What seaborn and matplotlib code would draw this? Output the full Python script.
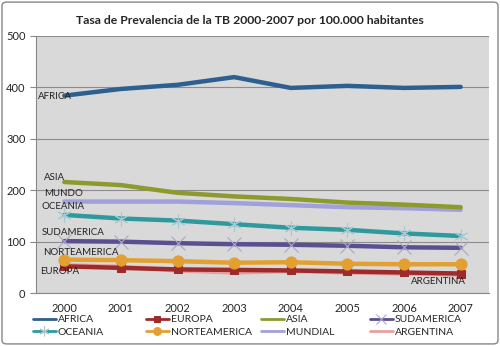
import matplotlib
matplotlib.use("Agg")
import matplotlib.pyplot as plt
import seaborn as sns
import pandas as pd
from matplotlib.patches import FancyBboxPatch

years = ["2000", "2001", "2002", "2003", "2004", "2005", "2006", "2007"]
africa = [384, 397, 405, 420, 399, 403, 399, 401]
europa = [52, 49, 46, 45, 44, 42, 40, 38]
asia = [216, 210, 195, 188, 183, 176, 172, 167]
sudamerica = [101, 100, 97, 95, 94, 92, 89, 88]
oceania = [152, 145, 141, 134, 127, 123, 116, 111]
norteamerica = [65, 64, 62, 59, 60, 57, 56, 56]
mundial = [178, 178, 178, 175, 171, 167, 165, 162]
argentina = [54, 51, 44, 40, 43, 40, 38, 36]

series = ["AFRICA", "EUROPA", "ASIA", "SUDAMERICA", "OCEANIA", "NORTEAMERICA", "MUNDIAL", "ARGENTINA"]
values = [africa, europa, asia, sudamerica, oceania, norteamerica, mundial, argentina]
colors = ["#2D5F91", "#9E2B2B", "#8C9A2E", "#5B4E91", "#2E9A9E", "#E3A030", "#A0A0DC", "#E8A0A0"]
markers = [None, "s", None, "x", (6, 2, 0), "o", None, None]

in_labels = ["AFRICA", "ASIA", "MUNDO", "OCEANIA", "SUDAMERICA", "NORTEAMERICA", "EUROPA", "ARGENTINA"]
lab_x = [-0.46, -0.36, -0.36, -0.41, -0.39, -0.38, -0.43, 6.13]
lab_y = [383, 225, 194, 168, 117, 78, 41, 22]

sns.set_style("white")
plt.rcParams["font.family"] = ["Lato", "DejaVu Sans"]

fig = plt.figure(figsize=(5, 3.46), dpi=100)
ax = fig.add_axes([0.072, 0.153, 0.906, 0.743])
ax.set_facecolor("#D9D9D9")

draw_order = [7, 1, 5, 3, 4, 6, 2, 0]
for i in draw_order:
    df = pd.DataFrame({"x": range(len(years)), "y": values[i]})
    m = markers[i]
    kw = {}
    if m == "s":
        kw = dict(marker="s", markersize=6, markerfacecolor=colors[i], markeredgecolor=colors[i])
    elif m == "o":
        kw = dict(marker="o", markersize=8, markerfacecolor=colors[i], markeredgecolor=colors[i])
    elif m is not None:
        kw = dict(marker=m, markersize=10, markeredgewidth=0.8,
                  markeredgecolor="#A8C8D0" if i == 4 else "#A8A8C8")
    sns.lineplot(data=df, x="x", y="y", ax=ax, color=colors[i], linewidth=3.2,
                 label=series[i], legend=False, zorder=3 + draw_order.index(i), **kw)

for t, x, y in zip(in_labels, lab_x, lab_y):
    ax.text(x, y, t, fontsize=7, color="#222222", va="center", ha="left", zorder=20)

ax.set_xlim(-0.5, 7.5)
ax.set_ylim(0, 500)
ax.set_yticks([0, 100, 200, 300, 400, 500])
ax.yaxis.grid(True, color="#8C8C8C", linewidth=0.8)
ax.set_axisbelow(True)
ax.set_xticks(range(len(years)))
ax.set_xticklabels(years)
ax.set_xticks([i - 0.5 for i in range(len(years) + 1)], minor=True)
ax.tick_params(axis="x", which="major", length=0, pad=7, labelsize=8)
ax.tick_params(axis="x", which="minor", length=4, color="#888888", direction="out")
ax.tick_params(axis="y", length=4, color="#888888", labelsize=8, direction="out", left=True)
ax.set_xlabel("")
ax.set_ylabel("")
for s in ["top", "right"]:
    ax.spines[s].set_visible(False)
for s in ["left", "bottom"]:
    ax.spines[s].set_color("#888888")
    ax.spines[s].set_linewidth(0.8)

fig.text(0.5, 0.942, "Tasa de Prevalencia de la TB 2000-2007 por 100.000 habitantes",
         ha="center", va="center", fontsize=8.8, fontweight="bold")

handles, labels = ax.get_legend_handles_labels()
hmap = dict(zip(labels, handles))
col_x = [33, 146, 261, 370]
for j in range(4):
    names = [series[j], series[j + 4]]
    leg = fig.legend([hmap[n] for n in names], names, loc="upper left",
                     bbox_to_anchor=(col_x[j] / 500, 1 - 315 / 346), frameon=False,
                     fontsize=7.5, handlelength=2.2, handletextpad=0.2,
                     labelspacing=0.3, markerscale=0.7, borderaxespad=0, borderpad=0)
    for ln in leg.get_lines():
        ln.set_linewidth(2)

border = FancyBboxPatch((0.004, 0.006), 0.992, 0.988, boxstyle="round,pad=0,rounding_size=0.01",
                        transform=fig.transFigure, facecolor="none", edgecolor="#888888", linewidth=1.0)
fig.patches.append(border)

fig.savefig("out.png", dpi=100)
